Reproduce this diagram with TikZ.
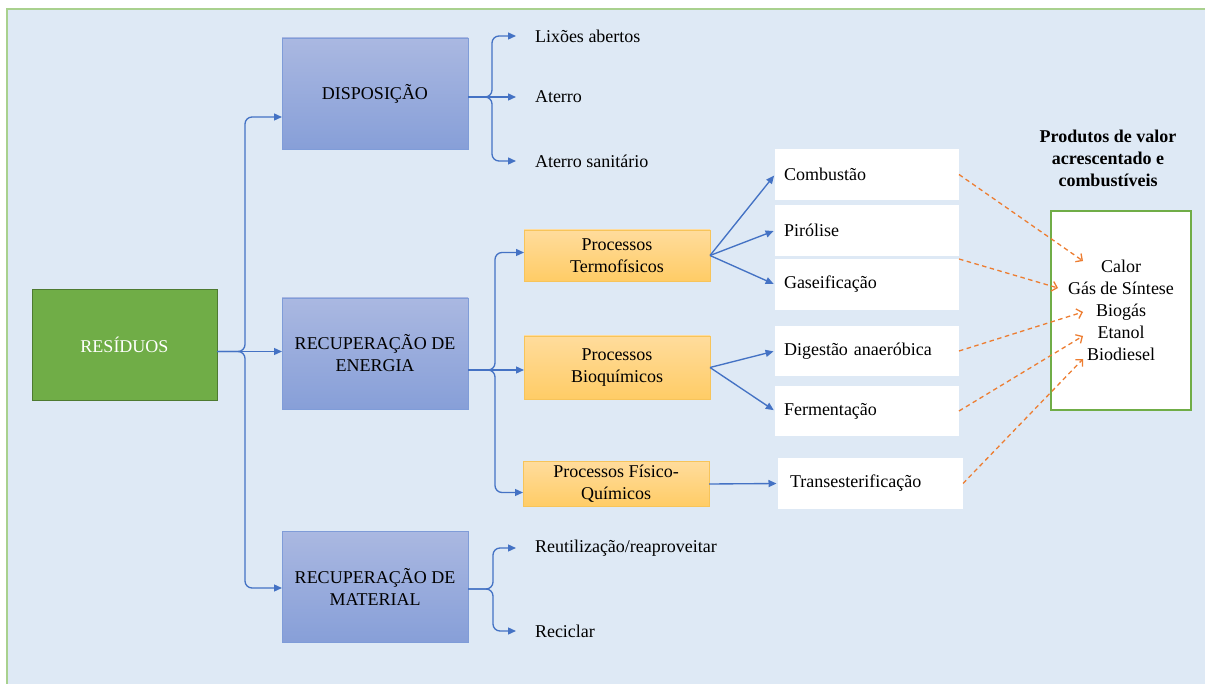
\documentclass[tikz,border=0pt]{standalone}
\usepackage{fontspec}
\setmainfont{Liberation Serif}
\usetikzlibrary{arrows.meta,calc}

\definecolor{bg}{HTML}{DEE9F5}
\definecolor{framegreen}{HTML}{A9D18E}
\definecolor{resfill}{HTML}{70AD47}
\definecolor{resedge}{HTML}{4E7A31}
\definecolor{bluetop}{HTML}{AAB8E1}
\definecolor{bluebot}{HTML}{879FD8}
\definecolor{blueedge}{HTML}{7F9CD8}
\definecolor{blueline}{HTML}{4472C4}
\definecolor{proctop}{HTML}{FFDC9C}
\definecolor{procbot}{HTML}{FFCC66}
\definecolor{procedge}{HTML}{F7C45A}
\definecolor{orangeline}{HTML}{ED7D31}
\definecolor{prodgreen}{HTML}{70AD47}

\tikzset{
  bluebox/.style={draw=blueedge, line width=0.8pt, top color=bluetop, bottom color=bluebot,
    minimum width=186pt, minimum height=111pt, align=center, inner sep=0pt, outer sep=0pt},
  procbox/.style={draw=procedge, line width=0.8pt, top color=proctop, bottom color=procbot,
    minimum width=186pt, align=center, inner sep=0pt, outer sep=0pt},
  whitebox/.style={fill=white, minimum width=184pt, minimum height=51pt, inner ysep=0pt,
    inner xsep=9pt, text width=166pt, align=left, outer sep=0pt},
  leaf/.style={anchor=west, inner xsep=19pt, inner ysep=0pt, outer sep=0pt},
  bline/.style={draw=blueline, line width=1.35pt, rounded corners=7pt,
    -{Triangle[length=8pt,width=7pt]}},
  fanline/.style={draw=blueline, line width=1.35pt, shorten >=1.5pt,
    -{Triangle[length=8pt,width=7pt]}},
  oline/.style={draw=orangeline, line width=1.3pt, dash pattern=on 4.5pt off 3.5pt,
    -{Straight Barb[length=5pt,width=10pt,line width=1.3pt]}}
}

\begin{document}
\begin{tikzpicture}[x=1pt,y=-1pt,font=\fontsize{18}{22}\selectfont]
\useasboundingbox (0,0) rectangle (1205,684);

% panel background and frame
\begin{scope}
\clip (0,0) rectangle (1205,684);
\fill[bg] (7,9) rectangle (1220,700);
\draw[framegreen, line width=2pt] (7,9) rectangle (1220,700);
\end{scope}

% main boxes
\node[draw=resedge, line width=0.8pt, fill=resfill, text=white, minimum width=185pt,
  minimum height=111pt, inner sep=0pt, outer sep=0pt] (res) at (124.5,344.5) {RESÍDUOS};
\node[bluebox] (disp) at (375,93.5) {DISPOSIÇÃO};
\node[bluebox] (en) at (375,353.5) {RECUPERAÇÃO DE\\ENERGIA};
\node[bluebox] (mat) at (375,586.5) {RECUPERAÇÃO DE\\MATERIAL};

% disposal options
\node[leaf] (lix) at (516,36) {Lixões abertos};
\node[leaf] (ate) at (516,97) {Aterro};
\node[leaf] (ates) at (516,161) {Aterro sanitário};

% material recovery options
\node[leaf] (reu) at (516,548) {Reutilização/reaproveitar};
\node[leaf] (rec) at (516,631) {Reciclar};

% process groups
\node[procbox, minimum height=51pt] (termo) at (617,255.5) {Processos\\Termofísicos};
\node[procbox, minimum height=63pt] (bio) at (617,367.5) {Processos\\Bioquímicos};
\node[procbox, minimum height=45pt] (fis) at (616,484) {Processos Físico-\\Químicos};

% individual processes
\node[whitebox] (comb) at (867,174.5) {Combustão};
\node[whitebox] (pir) at (867,230.5) {Pirólise};
\node[whitebox] (gas) at (867,284.5) {Gaseificação};
\node[whitebox, minimum height=50pt] (dig) at (867,351) {Digestão anaeróbica};
\node[whitebox, minimum height=50pt] (ferm) at (867,411) {Fermentação};
\node[whitebox, minimum width=185pt, inner xsep=12pt, text width=161pt] (trans) at (870.5,483.5) {Transesterificação};

% products
\node[font=\bfseries\fontsize{18}{22}\selectfont, align=center] (title) at (1108,158)
  {Produtos de valor\\acrescentado e\\combustíveis};
\node[draw=prodgreen, fill=white, line width=1.2pt, minimum width=140pt, minimum height=199pt,
  align=center, inner sep=0pt] (prod) at (1121,310.5)
  {Calor\\Gás de Síntese\\Biogás\\Etanol\\Biodiesel};
\coordinate (t1) at (1083,261);
\coordinate (t2) at (1058,288);
\coordinate (t3) at (1083,312);
\coordinate (t4) at (1083,336);
\coordinate (t5) at (1083,359);

% branching from RESÍDUOS
\coordinate (rsrc) at ($(res.east)+(0,7)$);
\draw[bline] (rsrc) -- ++(28,0) |- ($(disp.west)+(0,23.5)$);
\draw[bline] (rsrc) -- (en.west |- rsrc);
\draw[bline] (rsrc) -- ++(28,0) |- ($(mat.west)+(0,1.5)$);

% branching from DISPOSIÇÃO
\coordinate (dsrc) at ($(disp.east)+(0,3.5)$);
\draw[bline] (dsrc) -- ++(24,0) |- (lix.west);
\draw[bline] (dsrc) -- (ate.west);
\draw[bline] (dsrc) -- ++(24,0) |- (ates.west);

% branching from ENERGIA
\coordinate (esrc) at ($(en.east)+(0,16.5)$);
\draw[bline] (esrc) -- ++(27,0) |- ($(termo.west)+(0,-3)$);
\draw[bline] (esrc) -- (bio.west |- esrc);
\draw[bline] (esrc) -- ++(27,0) |- ($(fis.west)+(0,8.5)$);

% branching from MATERIAL
\coordinate (msrc) at ($(mat.east)+(0,2.5)$);
\draw[bline] (msrc) -- ++(25,0) |- (reu.west);
\draw[bline] (msrc) -- ++(25,0) |- (rec.west);

% process fans
\draw[fanline] (termo.east) -- (comb.west);
\draw[fanline] (termo.east) -- (pir.west);
\draw[fanline] (termo.east) -- (gas.west);
\draw[fanline] (bio.east) -- (dig.west);
\draw[fanline] (bio.east) -- (ferm.west);
\draw[fanline] (fis.east) -- (trans.west);

% links to products
\draw[oline] (comb.east) -- (t1);
\draw[oline] (gas.north east) -- (t2);
\draw[oline] (dig.east) -- (t3);
\draw[oline] (ferm.east) -- (t4);
\draw[oline] (trans.east) -- (t5);
\end{tikzpicture}
\end{document}
